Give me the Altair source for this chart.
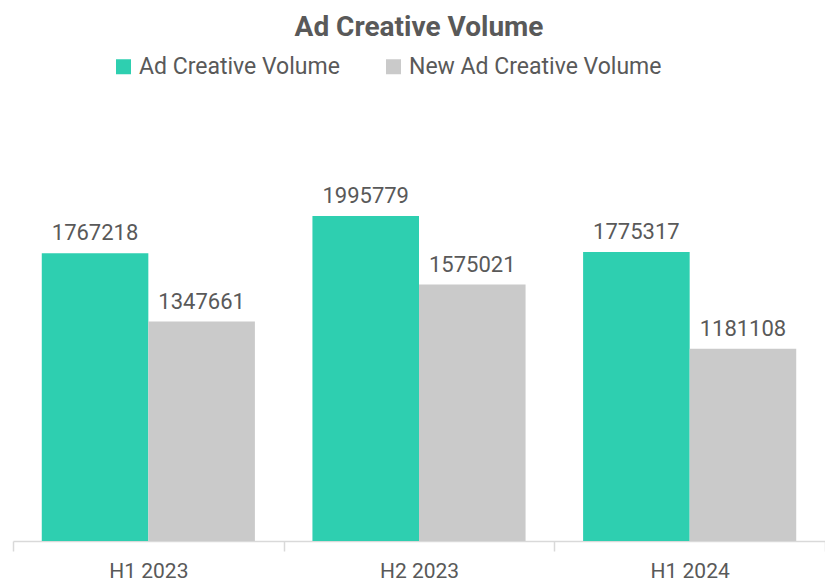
import altair as alt
import pandas as pd

periods = ["H1 2023", "H2 2023", "H1 2024"]
series = ["Ad Creative Volume", "New Ad Creative Volume"]
ad_volume = [1767218, 1995779, 1775317]
new_ad_volume = [1347661, 1575021, 1181108]
colors = ["#2ECFB0", "#CACACA"]

rows = []
for i, p in enumerate(periods):
    rows.append({"period": p, "series": series[0], "value": ad_volume[i]})
    rows.append({"period": p, "series": series[1], "value": new_ad_volume[i]})
df = pd.DataFrame(rows)

FONT = "Roboto"
TXT = "#595959"

x = alt.X("period:N", sort=periods, title=None,
          scale=alt.Scale(paddingInner=0, paddingOuter=0),
          axis=alt.Axis(labelAngle=0, labelFontSize=21, labelColor=TXT, labelFont=FONT,
                        domainColor="#D9D9D9", tickColor="#D9D9D9", tickSize=10,
                        tickBand="extent", labelPadding=9, domainWidth=1.5, tickWidth=1.5))
xo = alt.XOffset("series:N", sort=series,
                 scale=alt.Scale(paddingInner=0, paddingOuter=0.27))
y = alt.Y("value:Q", title=None, axis=None, scale=alt.Scale(domain=[0, 2500000], nice=False))
color = alt.Color("series:N", sort=series,
                  scale=alt.Scale(domain=series, range=colors),
                  legend=alt.Legend(title=None, orient="none", legendX=99, legendY=-79,
                                    direction="horizontal", symbolType="square",
                                    symbolSize=225, symbolStrokeWidth=0, labelFontSize=23,
                                    labelColor=TXT, labelFont=FONT, columnPadding=42,
                                    labelOffset=4, labelLimit=400))

bars = alt.Chart(df).mark_bar().encode(x=x, xOffset=xo, y=y, color=color)
labels = alt.Chart(df).mark_text(baseline="bottom", dy=-8, fontSize=22, color=TXT, font=FONT).encode(
    x=x, xOffset=xo, y=y, text=alt.Text("value:Q", format="d"))

chart = (bars + labels).properties(
    width=812, height=407,
    autosize=alt.AutoSizeParams(type="none"),
    padding={"left": 5, "top": 126, "right": 0, "bottom": 45},
    title=alt.TitleParams("Ad Creative Volume", anchor="middle", fontSize=28, font=FONT,
                          fontWeight="bold", color=TXT, offset=13),
).configure_view(stroke=None)

chart.save("out.html", embed_options={"renderer": "svg", "actions": False})
